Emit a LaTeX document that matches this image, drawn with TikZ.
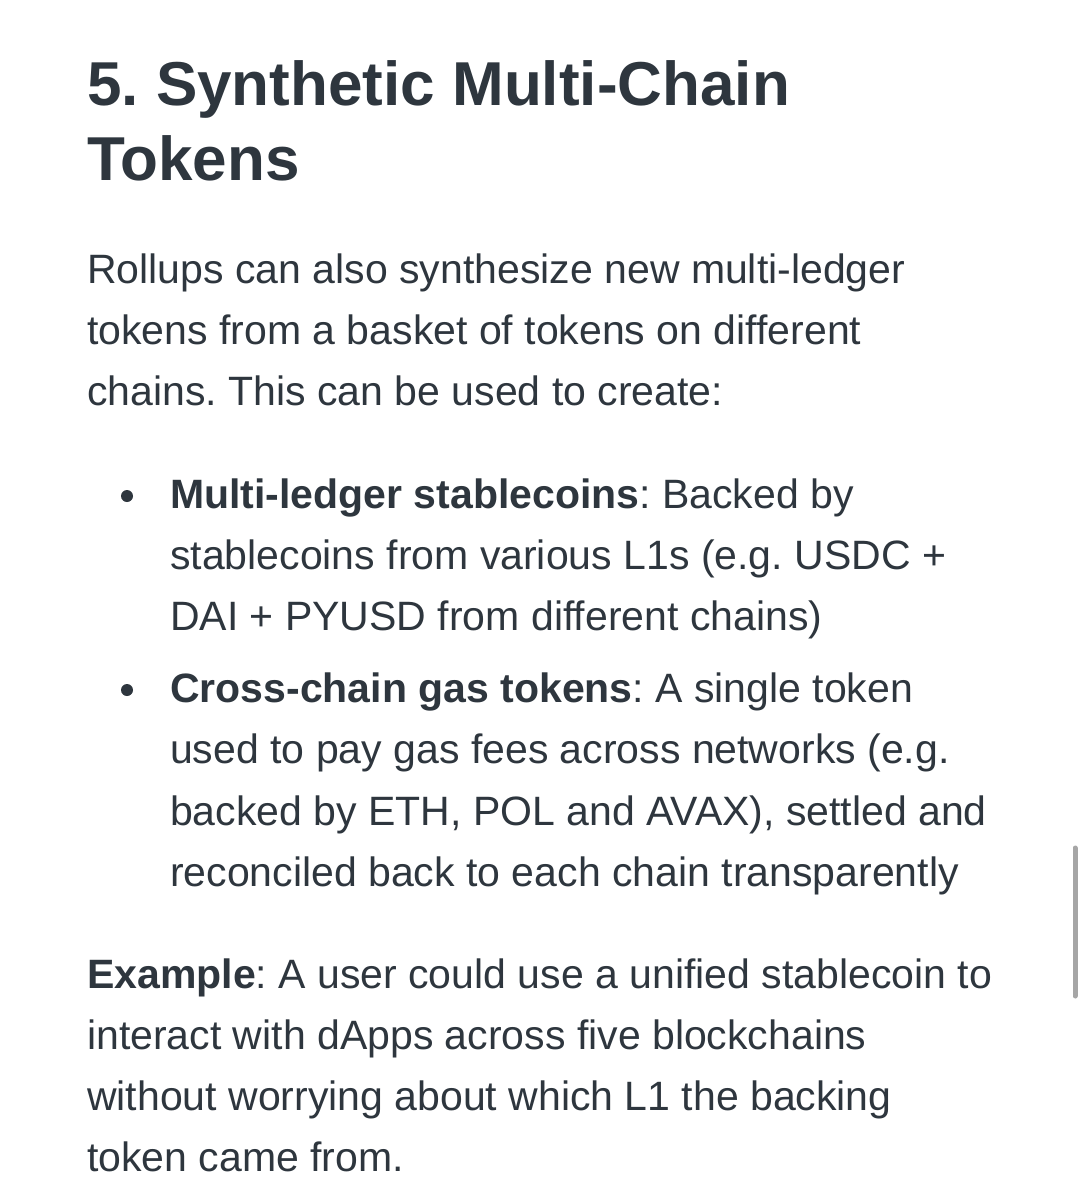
\documentclass[tikz,border=0pt]{standalone}
\usepackage{fontspec}
\setmainfont{Liberation Sans}
\definecolor{txt}{HTML}{2E363E}
\begin{document}
\frenchspacing
\begin{tikzpicture}[x=1pt,y=-1pt,
  hd/.style={anchor=base west,inner sep=0,font=\fontsize{62}{62}\selectfont\bfseries,text=txt},
  bd/.style={anchor=base west,inner sep=0,font=\fontsize{41}{41}\selectfont,text=txt}]
\useasboundingbox[fill=white] (0,0) rectangle (1088,1200);
\node[hd] (h1) at (87,105) {5. Synthetic Multi-Chain};
\node[hd] (h2) at (87,180) {Tokens};
\node[bd] (p1) at (87,283) {Rollups can also synthesize new multi-ledger};
\node[bd] (p2) at (87,344) {tokens from a basket of tokens on different};
\node[bd] (p3) at (87,405) {chains. This can be used to create:};
\fill[txt] (127,496) circle (6);
\node[bd] (a1) at (170,508) {\textbf{Multi-ledger stablecoins}: Backed by};
\node[bd] (a2) at (170,569) {stablecoins from various L1s (e.g. USDC +};
\node[bd] (a3) at (170,630) {DAI + PYUSD from different chains)};
\fill[txt] (127,690) circle (6);
\node[bd] (b1) at (170,702) {\textbf{Cross-chain gas tokens}: A single token};
\node[bd] (b2) at (170,763) {used to pay gas fees across networks (e.g.};
\node[bd] (b3) at (170,825) {backed by ETH, POL and AVAX), settled and};
\node[bd] (b4) at (170,886) {reconciled back to each chain transparently};
\node[bd] (e1) at (87,988) {\textbf{Example}: A user could use a unified stablecoin to};
\node[bd] (e2) at (87,1049) {interact with dApps across five blockchains};
\node[bd] (e3) at (87,1110) {without worrying about which L1 the backing};
\node[bd] (e4) at (87,1171) {token came from.};
\draw[line width=5,line cap=round,gray!70] (1075,848) -- (1075,996);
\end{tikzpicture}
\end{document}
